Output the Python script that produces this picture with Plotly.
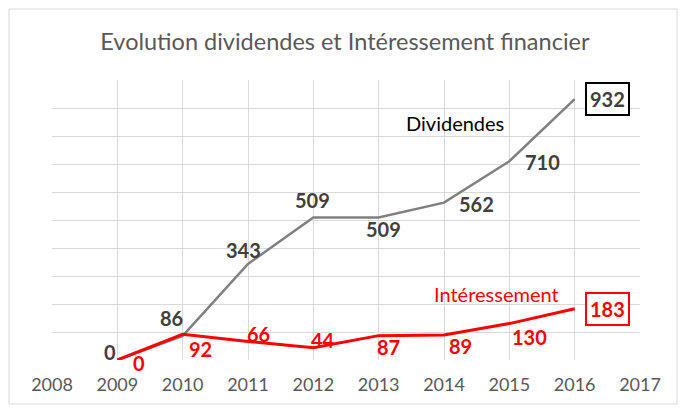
import plotly.graph_objects as go

years = [2009, 2010, 2011, 2012, 2013, 2014, 2015, 2016]
dividendes = [0, 86, 343, 509, 509, 562, 710, 932]
interessement = [0, 92, 66, 44, 87, 89, 130, 183]
x_ticks = [2008, 2009, 2010, 2011, 2012, 2013, 2014, 2015, 2016, 2017]
title = "Evolution dividendes et Intéressement financier"

# label offsets (px) relative to each point
div_shift = [(-7, 8), (-11, 18), (-5, 13.5), (-1, 17.5), (5, -12), (32, -1), (33, -1), (33, 0)]
int_shift = [(22, -2.5), (18, -15), (10, 8), (10, 8), (10, -11), (16, -10.5), (20, -13), (33, 0)]

W, H = 683, 408
L, R, T, B = 52, 43, 80, 48
FONT = "Lato"
LBL = 20

fig = go.Figure()
fig.add_trace(go.Scatter(x=years, y=dividendes, mode="lines",
                         line=dict(color="#808080", width=2.5), hoverinfo="skip"))
fig.add_trace(go.Scatter(x=years, y=interessement, mode="lines",
                         line=dict(color="#ff0000", width=3), hoverinfo="skip"))

ann = []
n = len(years)


def add_labels(values, shifts, color, box_color):
    for i, (x, v) in enumerate(zip(years, values)):
        dx, dy = shifts[i]
        a = dict(x=x, y=v, text=str(v), showarrow=False, xshift=dx, yshift=dy,
                 font=dict(family=FONT, size=LBL, color=color, weight="bold"))
        if i == n - 1:
            a.update(bordercolor=box_color, borderwidth=2, borderpad=3, bgcolor="white")
        ann.append(a)


add_labels(dividendes, div_shift, "#404040", "#000000")
add_labels(interessement, int_shift, "#ff0000", "#ff0000")

ann.append(dict(x=2014.17, y=845, text="Dividendes", showarrow=False,
                font=dict(family=FONT, size=20, color="#000000")))
ann.append(dict(x=2014.8, y=237, text="Intéressement", showarrow=False,
                font=dict(family=FONT, size=20, color="#ff0000")))

pw, ph = W - L - R, H - T - B
fig.update_layout(
    width=W, height=H,
    margin=dict(l=L, r=R, t=T, b=B),
    paper_bgcolor="white", plot_bgcolor="white",
    showlegend=False,
    title=dict(text=title, x=0.505, xanchor="center", y=1 - 42 / H, yanchor="middle",
               font=dict(family=FONT, size=23.5, color="#595959")),
    annotations=ann,
    shapes=[dict(type="rect", xref="paper", yref="paper",
                 x0=(9 - L) / pw, x1=(677 - L) / pw,
                 y0=(H - B - 404) / ph, y1=(H - B - 9) / ph,
                 line=dict(color="#d9d9d9", width=1), layer="below")],
)
fig.update_xaxes(range=[2008, 2017], tickvals=x_ticks, showgrid=True, gridcolor="#d9d9d9",
                 gridwidth=1, zeroline=False, showline=False, ticks="outside", ticklen=8,
                 tickcolor="rgba(0,0,0,0)", tickfont=dict(family=FONT, size=18, color="#595959"))
fig.update_yaxes(range=[0, 1000], tickvals=list(range(100, 1001, 100)), showticklabels=False,
                 showgrid=True, gridcolor="#d9d9d9", gridwidth=1, zeroline=False, showline=False)

fig.write_html("out.html")
